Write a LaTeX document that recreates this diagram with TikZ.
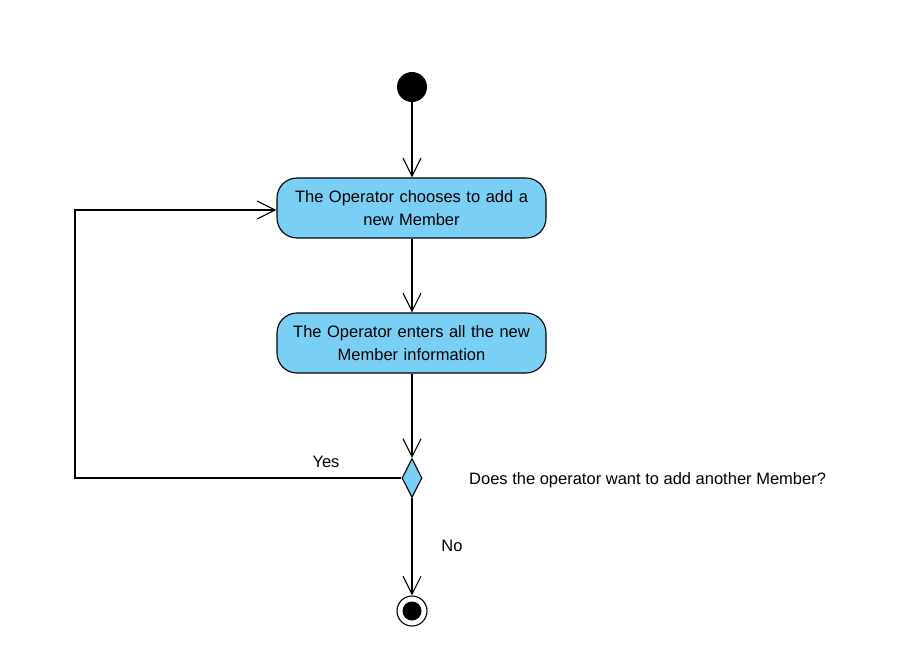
\documentclass[tikz,border=0pt]{standalone}
\usepackage{fontspec}
\setmainfont{Liberation Sans}
\usetikzlibrary{shapes.geometric,arrows.meta}
\definecolor{actfill}{RGB}{122,207,245}
\begin{document}
\begin{tikzpicture}[x=1pt,y=-1pt,
  every node/.style={font=\fontsize{16.5}{23}\selectfont},
  action/.style={draw, line width=1.1pt, fill=actfill, rounded corners=20pt,
    minimum width=269pt, minimum height=60pt, text width=262pt, align=center, inner sep=0pt},
  flow/.style={draw, line width=1.1pt, -{Straight Barb[length=18pt,width=18pt,line width=1.1pt]}},
  plain/.style={draw, line width=1.1pt},
  decision/.style={draw, line width=1.1pt, fill=actfill, diamond, minimum width=20pt,
    minimum height=39pt, inner sep=0pt, shape aspect=0.5},
  startnode/.style={circle, fill=black, minimum size=30pt, inner sep=0pt},
  label/.style={inner sep=0pt, anchor=center}]
\useasboundingbox (0,0) rectangle (897,647);

% nodes
\node[startnode] (start) at (412,87) {};
\node[action] (choose) at (411.5,208) {The Operator chooses to add a\\new Member};
\node[action] (enter) at (411.5,343) {The Operator enters all the new\\Member information};
\node[draw, decision] (dec) at (412,478) {};
\node[circle, draw, line width=1.1pt, fill=white, minimum size=30pt, inner sep=0pt] (final) at (412,611) {};
\node[circle, fill=black, minimum size=19pt, inner sep=0pt] (finaldot) at (final) {};
\coordinate (loopbl) at (75,478);
\coordinate (looptl) at (75,210);

% connectors
\draw[flow] (start) -- (choose.north -| start);
\draw[flow] (choose.south -| start) -- (enter.north -| start);
\draw[flow] (enter.south -| dec) -- (dec.north);
\draw[flow] (dec.south) -- (final.north);
\draw[flow] (dec.west) -- (loopbl) -- (looptl) -- (choose.west |- looptl);

% labels
\node[label] (yes) at (326,462) {Yes};
\node[label] (no) at (452,546) {No};
\node[label, anchor=west] (question) at (469,480) {Does the operator want to add another Member?};
\end{tikzpicture}
\end{document}
